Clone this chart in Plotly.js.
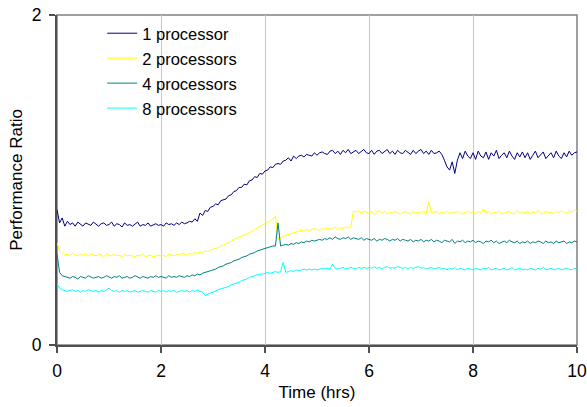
<!DOCTYPE html>
<html>
<head>
<meta charset="utf-8">
<script src="https://cdn.plot.ly/plotly-3.0.1.min.js"></script>
<style>
  html, body { margin: 0; padding: 0; background: #fff; }
  #chart { width: 587px; height: 407px; }
</style>
</head>
<body>
<div id="chart"></div>
<script>
// Performance ratio samples, one every 0.05 h from 0 to 10 h
const seriesNames = ["1 processor", "2 processors", "4 processors", "8 processors"];
const seriesColors = ["#000080", "#FFFF00", "#008080", "#00FFFF"];
const sampleStep = 0.05;

const proc1 = [
  0.82, 0.74, 0.77, 0.72, 0.75, 0.73, 0.74, 0.72, 0.745, 0.73, 0.72, 0.74, 0.73, 0.725, 0.745, 0.73, 0.72, 0.735, 0.74, 0.725,
  0.73, 0.745, 0.72, 0.735, 0.73, 0.715, 0.74, 0.725, 0.73, 0.72, 0.735, 0.745, 0.72, 0.73, 0.725, 0.74, 0.72, 0.73, 0.735, 0.725,
  0.73, 0.72, 0.74, 0.73, 0.735, 0.725, 0.74, 0.73, 0.745, 0.735, 0.74, 0.75, 0.745, 0.765, 0.75, 0.80, 0.785, 0.815, 0.81, 0.835,
  0.84, 0.855, 0.85, 0.875, 0.88, 0.885, 0.905, 0.91, 0.93, 0.935, 0.955, 0.955, 0.975, 0.97, 0.995, 1.00, 1.02, 1.015, 1.04, 1.035,
  1.055, 1.06, 1.08, 1.075, 1.095, 1.10, 1.095, 1.115, 1.12, 1.135, 1.115, 1.145, 1.13, 1.145, 1.15, 1.14, 1.155, 1.15, 1.145, 1.165,
  1.15, 1.165, 1.17, 1.16, 1.155, 1.175, 1.18, 1.16, 1.175, 1.155, 1.18, 1.165, 1.185, 1.16, 1.17, 1.18, 1.16, 1.175, 1.185, 1.165,
  1.16, 1.18, 1.155, 1.175, 1.18, 1.16, 1.17, 1.185, 1.16, 1.175, 1.155, 1.18, 1.165, 1.16, 1.18, 1.17, 1.155, 1.18, 1.16, 1.175,
  1.185, 1.16, 1.175, 1.155, 1.18, 1.16, 1.165, 1.175, 1.155, 1.12, 1.08, 1.06, 1.11, 1.04, 1.12, 1.165, 1.13, 1.175, 1.145, 1.13,
  1.165, 1.125, 1.175, 1.145, 1.135, 1.17, 1.125, 1.165, 1.145, 1.18, 1.13, 1.15, 1.165, 1.135, 1.175, 1.145, 1.125, 1.165, 1.14, 1.17,
  1.135, 1.165, 1.125, 1.15, 1.175, 1.135, 1.155, 1.17, 1.13, 1.15, 1.165, 1.135, 1.175, 1.145, 1.13, 1.165, 1.14, 1.175, 1.15, 1.165,
  1.17
];

const proc2 = [
  0.62, 0.57, 0.56, 0.545, 0.55, 0.54, 0.555, 0.545, 0.54, 0.55, 0.545, 0.555, 0.54, 0.55, 0.545, 0.54, 0.55, 0.545, 0.535, 0.55,
  0.545, 0.54, 0.55, 0.54, 0.545, 0.535, 0.55, 0.54, 0.545, 0.54, 0.535, 0.545, 0.54, 0.55, 0.535, 0.54, 0.545, 0.535, 0.54, 0.545,
  0.54, 0.545, 0.535, 0.55, 0.545, 0.54, 0.55, 0.545, 0.555, 0.55, 0.545, 0.555, 0.55, 0.56, 0.555, 0.565, 0.56, 0.57, 0.565, 0.575,
  0.58, 0.585, 0.59, 0.60, 0.605, 0.615, 0.62, 0.63, 0.64, 0.645, 0.655, 0.66, 0.67, 0.675, 0.68, 0.69, 0.70, 0.705, 0.715, 0.725,
  0.735, 0.745, 0.75, 0.765, 0.78, 0.645, 0.65, 0.655, 0.665, 0.67, 0.675, 0.68, 0.685, 0.69, 0.695, 0.69, 0.70, 0.695, 0.70, 0.705,
  0.70, 0.695, 0.705, 0.70, 0.71, 0.70, 0.705, 0.715, 0.70, 0.71, 0.705, 0.715, 0.71, 0.72, 0.81, 0.805, 0.815, 0.80, 0.81, 0.805,
  0.80, 0.81, 0.795, 0.805, 0.815, 0.80, 0.81, 0.795, 0.805, 0.80, 0.81, 0.80, 0.795, 0.805, 0.81, 0.80, 0.795, 0.81, 0.80, 0.805,
  0.80, 0.81, 0.795, 0.87, 0.80, 0.805, 0.81, 0.795, 0.805, 0.80, 0.81, 0.795, 0.805, 0.80, 0.81, 0.80, 0.795, 0.805, 0.81, 0.80,
  0.805, 0.795, 0.81, 0.80, 0.825, 0.80, 0.81, 0.795, 0.805, 0.80, 0.81, 0.795, 0.80, 0.805, 0.81, 0.795, 0.80, 0.815, 0.80, 0.805,
  0.80, 0.81, 0.795, 0.805, 0.80, 0.815, 0.80, 0.795, 0.81, 0.80, 0.805, 0.795, 0.81, 0.80, 0.815, 0.805, 0.80, 0.81, 0.805, 0.82,
  0.81
];

const proc4 = [
  0.55, 0.44, 0.42, 0.415, 0.41, 0.405, 0.415, 0.41, 0.40, 0.415, 0.41, 0.405, 0.42, 0.41, 0.405, 0.41, 0.415, 0.405, 0.41, 0.42,
  0.41, 0.405, 0.415, 0.41, 0.42, 0.405, 0.41, 0.415, 0.405, 0.41, 0.42, 0.41, 0.405, 0.415, 0.41, 0.405, 0.415, 0.41, 0.42, 0.41,
  0.415, 0.41, 0.405, 0.42, 0.41, 0.415, 0.41, 0.42, 0.415, 0.41, 0.42, 0.415, 0.425, 0.42, 0.43, 0.425, 0.435, 0.44, 0.445, 0.45,
  0.455, 0.46, 0.47, 0.475, 0.48, 0.49, 0.495, 0.50, 0.51, 0.515, 0.52, 0.53, 0.535, 0.54, 0.55, 0.555, 0.56, 0.57, 0.575, 0.58,
  0.585, 0.59, 0.595, 0.60, 0.60, 0.74, 0.60, 0.605, 0.61, 0.605, 0.615, 0.61, 0.62, 0.615, 0.625, 0.62, 0.63, 0.625, 0.635, 0.63,
  0.635, 0.64, 0.635, 0.645, 0.64, 0.65, 0.64, 0.655, 0.645, 0.64, 0.65, 0.645, 0.655, 0.64, 0.65, 0.645, 0.64, 0.65, 0.635, 0.645,
  0.64, 0.635, 0.645, 0.63, 0.64, 0.635, 0.645, 0.64, 0.63, 0.64, 0.635, 0.645, 0.63, 0.64, 0.635, 0.63, 0.64, 0.625, 0.635, 0.63,
  0.64, 0.625, 0.635, 0.63, 0.64, 0.625, 0.635, 0.63, 0.62, 0.635, 0.63, 0.625, 0.64, 0.615, 0.63, 0.625, 0.635, 0.62, 0.63, 0.625,
  0.635, 0.62, 0.63, 0.625, 0.615, 0.63, 0.625, 0.635, 0.62, 0.63, 0.615, 0.625, 0.63, 0.62, 0.635, 0.625, 0.62, 0.63, 0.615, 0.625,
  0.62, 0.63, 0.615, 0.625, 0.62, 0.63, 0.625, 0.615, 0.63, 0.62, 0.625, 0.615, 0.63, 0.62, 0.625, 0.63, 0.615, 0.625, 0.62, 0.63,
  0.625
];

const proc8 = [
  0.37, 0.345, 0.335, 0.33, 0.325, 0.33, 0.335, 0.325, 0.33, 0.32, 0.33, 0.325, 0.335, 0.33, 0.325, 0.33, 0.32, 0.33, 0.325, 0.335,
  0.345, 0.33, 0.325, 0.33, 0.32, 0.33, 0.325, 0.33, 0.32, 0.325, 0.33, 0.32, 0.325, 0.33, 0.325, 0.32, 0.33, 0.325, 0.32, 0.33,
  0.325, 0.33, 0.32, 0.33, 0.325, 0.33, 0.32, 0.325, 0.33, 0.325, 0.33, 0.32, 0.33, 0.325, 0.335, 0.325, 0.32, 0.30, 0.31, 0.315,
  0.32, 0.33, 0.335, 0.34, 0.345, 0.35, 0.355, 0.365, 0.37, 0.375, 0.38, 0.39, 0.395, 0.40, 0.41, 0.415, 0.42, 0.425, 0.43, 0.43,
  0.435, 0.44, 0.435, 0.44, 0.445, 0.44, 0.445, 0.50, 0.44, 0.445, 0.45, 0.445, 0.455, 0.45, 0.455, 0.46, 0.455, 0.46, 0.455, 0.46,
  0.455, 0.46, 0.465, 0.46, 0.465, 0.46, 0.49, 0.465, 0.46, 0.465, 0.47, 0.46, 0.465, 0.47, 0.465, 0.46, 0.47, 0.465, 0.47, 0.465,
  0.47, 0.465, 0.475, 0.465, 0.47, 0.46, 0.47, 0.475, 0.465, 0.47, 0.465, 0.475, 0.47, 0.465, 0.47, 0.46, 0.47, 0.465, 0.47, 0.475,
  0.465, 0.47, 0.46, 0.465, 0.47, 0.46, 0.465, 0.47, 0.46, 0.465, 0.455, 0.465, 0.46, 0.47, 0.455, 0.465, 0.46, 0.455, 0.465, 0.46,
  0.455, 0.465, 0.46, 0.455, 0.465, 0.46, 0.47, 0.455, 0.46, 0.465, 0.455, 0.46, 0.465, 0.455, 0.46, 0.47, 0.455, 0.46, 0.465, 0.455,
  0.46, 0.455, 0.465, 0.46, 0.455, 0.465, 0.46, 0.47, 0.455, 0.46, 0.465, 0.455, 0.46, 0.465, 0.455, 0.46, 0.465, 0.46, 0.455, 0.465,
  0.46
];

const seriesValues = [proc1, proc2, proc4, proc8];

const traces = seriesValues.map((vals, k) => ({
  type: "scatter",
  mode: "lines",
  name: seriesNames[k],
  legendgroup: "g" + k,
  x: vals.map((_, i) => +(i * sampleStep).toFixed(2)),
  y: vals,
  line: { color: seriesColors[k], width: 1 },
  hoverinfo: "x+y+name"
}));

const fam = "Liberation Sans, Arial, sans-serif";
const txt = (size) => ({ family: fam, size: size, color: "#000" });

const layout = {
  width: 587,
  height: 407,
  margin: { l: 57, r: 10, t: 15, b: 62 },
  paper_bgcolor: "#fff",
  plot_bgcolor: "#fff",
  font: txt(16.5),
  showlegend: true,
  legend: {
    x: 0.087, xanchor: "left",
    y: 0.997, yanchor: "top",
    bgcolor: "rgba(0,0,0,0)",
    borderwidth: 0,
    traceorder: "grouped",
    tracegroupgap: 0.5,
    font: txt(16.5)
  },
  xaxis: {
    range: [0, 10],
    dtick: 2,
    tick0: 0,
    ticks: "outside",
    ticklen: 6,
    tickcolor: "#505050",
    tickwidth: 1.5,
    showline: true,
    linecolor: "#505050",
    linewidth: 1.5,
    showgrid: true,
    gridcolor: "#c8c8c8",
    gridwidth: 1,
    zeroline: false,
    tickfont: txt(17.5),
    ticklabelstandoff: 3,
    title: { text: "Time (hrs)", font: txt(17), standoff: 6 }
  },
  yaxis: {
    range: [0, 2],
    dtick: 2,
    tick0: 0,
    ticks: "outside",
    ticklen: 6,
    tickcolor: "#505050",
    tickwidth: 1.5,
    showline: true,
    linecolor: "#505050",
    linewidth: 2,
    showgrid: false,
    zeroline: false,
    tickfont: txt(17.5),
    ticklabelstandoff: 4,
    title: { text: "Performance Ratio", font: txt(17), standoff: 5 }
  },
  shapes: [
    {
      type: "rect", xref: "paper", yref: "paper",
      x0: 0, x1: 1, y0: 0, y1: 1,
      line: { color: "#808080", width: 1.5 },
      layer: "below"
    }
  ]
};

Plotly.newPlot("chart", traces, layout, { displayModeBar: false, staticPlot: true });
</script>
</body>
</html>
